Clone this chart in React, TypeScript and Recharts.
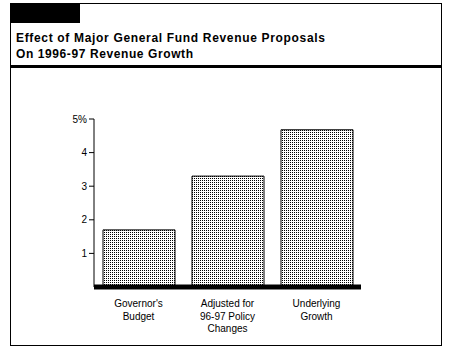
import React from 'react';
import { BarChart, Bar, XAxis, YAxis } from 'recharts';

const categories: string[][] = [
  ["Governor's", 'Budget'],
  ['Adjusted for', '96-97 Policy', 'Changes'],
  ['Underlying', 'Growth'],
];
const growthValues: number[] = [1.7, 3.3, 4.68];
const yTicks: number[] = [1, 2, 3, 4, 5];
const titleLines: string[] = [
  'Effect of Major General Fund Revenue Proposals',
  'On 1996-97 Revenue Growth',
];

const data = categories.map((lines, i) => ({
  name: lines.join(' '),
  lines,
  value: growthValues[i],
}));

const FONT = '"Liberation Sans", Arial, sans-serif';

const CategoryTick = (props: any) => {
  const { x, y, payload, index } = props;
  const lines = categories[index] ?? [payload.value];
  return (
    <g transform={`translate(${x},${y})`}>
      <text textAnchor="middle" fontFamily={FONT} fontSize={10} fill="#000">
        {lines.map((l: string, i: number) => (
          <tspan key={i} x={0} y={12 + i * 12.5}>
            {l}
          </tspan>
        ))}
      </text>
    </g>
  );
};

export default function App() {
  return (
    <div style={{ position: 'absolute', left: 0, top: 0, width: 451, height: 350, background: '#fff' }}>
      <BarChart
        width={451}
        height={350}
        data={data}
        margin={{ top: 119, right: 90, bottom: 13, left: 64 }}
        barCategoryGap={0}
      >
        <defs>
          <pattern id="dots" width="2" height="2" patternUnits="userSpaceOnUse">
            <rect x="0" y="0" width="2" height="2" fill="#fff" />
            <rect x="0" y="0" width="1" height="1" fill="#000" />
          </pattern>
        </defs>
        <XAxis
          dataKey="name"
          height={50}
          axisLine={{ stroke: '#000', strokeWidth: 5 }}
          tickLine={false}
          tick={<CategoryTick />}
          interval={0}
        />
        <YAxis
          width={30}
          domain={[0, 5]}
          ticks={yTicks}
          tickFormatter={(v: number) => (v === 5 ? '5%' : String(v))}
          axisLine={{ stroke: '#000' }}
          tickLine={{ stroke: '#000' }}
          tickSize={5}
          tick={{ fill: '#000', fontSize: 10, fontFamily: FONT }}
        />
        <Bar
          dataKey="value"
          barSize={72}
          fill="url(#dots)"
          stroke="#000"
          strokeWidth={1}
          isAnimationActive={false}
        />
      </BarChart>
      <svg
        width={451}
        height={350}
        style={{ position: 'absolute', left: 0, top: 0, pointerEvents: 'none' }}
      >
        <rect x={10.5} y={3.5} width={431} height={342} fill="none" stroke="#000" strokeWidth={1} />
        <rect x={10} y={3} width={70} height={20} fill="#000" />
        <rect x={10} y={65} width={432} height={3} fill="#000" />
        <text
          x={16}
          y={42}
          fontFamily={FONT}
          fontWeight="bold"
          fontSize={12}
          fill="#000"
          textLength={309}
          lengthAdjust="spacing"
        >
          {titleLines[0]}
        </text>
        <text
          x={16}
          y={58}
          fontFamily={FONT}
          fontWeight="bold"
          fontSize={12}
          fill="#000"
          textLength={177}
          lengthAdjust="spacing"
        >
          {titleLines[1]}
        </text>
      </svg>
    </div>
  );
}
